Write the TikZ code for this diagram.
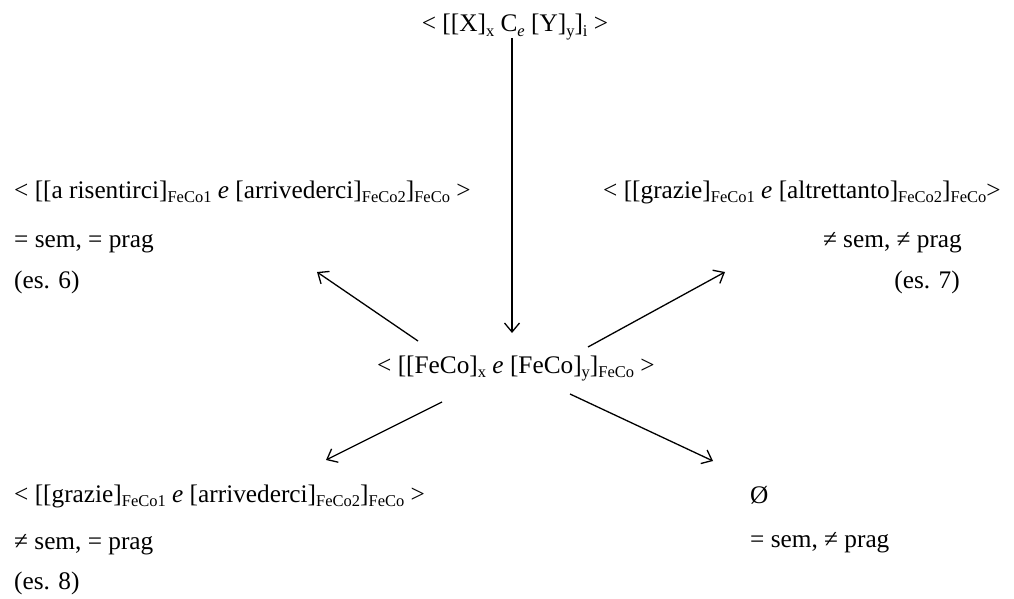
\documentclass[tikz,border=0pt]{standalone}
\usepackage{fontspec}
\setmainfont{Liberation Serif}
\usetikzlibrary{arrows.meta}
\newcommand{\sbx}[1]{\raisebox{-4.5pt}{\fontsize{16.5}{16.5}\selectfont #1}}
\newcommand{\ite}{\textit{e}}
\begin{document}
\begin{tikzpicture}[x=1pt,y=-1pt,
  txt/.style={inner sep=0pt,font=\fontsize{25.3}{30}\selectfont},
  arr/.style={line width=1.3pt,-{Straight Barb[length=9pt,width=15pt,line width=1.3pt]}}]
\useasboundingbox (0,0) rectangle (1014,599);
% top
\node[txt,anchor=base] (top) at (515,32) {< [[X]\sbx{x} C\sbx{\itshape e} [Y]\sbx{y}]\sbx{i} >};
% middle
\node[txt,anchor=base west] (mid) at (377,373) {< [[FeCo]\sbx{x} \ite{} [FeCo]\sbx{y}]\sbx{FeCo} >};
% upper left
\node[txt,anchor=base west] (l1) at (14,198) {< [[a risentirci]\sbx{FeCo1} \ite{} [arrivederci]\sbx{FeCo2}]\sbx{FeCo} >};
\node[txt,anchor=base west] (l2) at (14,247) {= sem, = prag};
\node[txt,anchor=base west] (l3) at (14,288) {(es. 6)};
% upper right
\node[txt,anchor=base west] (r1) at (603,198) {< [[grazie]\sbx{FeCo1} \ite{} [altrettanto]\sbx{FeCo2}]\sbx{FeCo}>};
\node[txt,anchor=base east] (r2) at (962,247) {≠ sem, ≠ prag};
\node[txt,anchor=base east] (r3) at (960,288) {(es. 7)};
% lower left
\node[txt,anchor=base west] (b1) at (14,502) {< [[grazie]\sbx{FeCo1} \ite{} [arrivederci]\sbx{FeCo2}]\sbx{FeCo} >};
\node[txt,anchor=base west] (b2) at (14,549) {≠ sem, = prag};
\node[txt,anchor=base west] (b3) at (14,589) {(es. 8)};
% lower right
\node[txt,anchor=base west] (e1) at (750,503) {Ø};
\node[txt,anchor=base west] (e2) at (750,547) {= sem, ≠ prag};
% arrow endpoints
\coordinate (vt) at (512,38);
\coordinate (vh) at (512,333);
\coordinate (ult) at (418,341);
\coordinate (ulh) at (317,272);
\coordinate (urt) at (588,347);
\coordinate (urh) at (725,272);
\coordinate (llt) at (442,402);
\coordinate (llh) at (326,460);
\coordinate (lrt) at (570,394);
\coordinate (lrh) at (713,461);
\draw[arr] (vt) -- (vh);
\draw[arr] (ult) -- (ulh);
\draw[arr] (urt) -- (urh);
\draw[arr] (llt) -- (llh);
\draw[arr] (lrt) -- (lrh);
\end{tikzpicture}
\end{document}
